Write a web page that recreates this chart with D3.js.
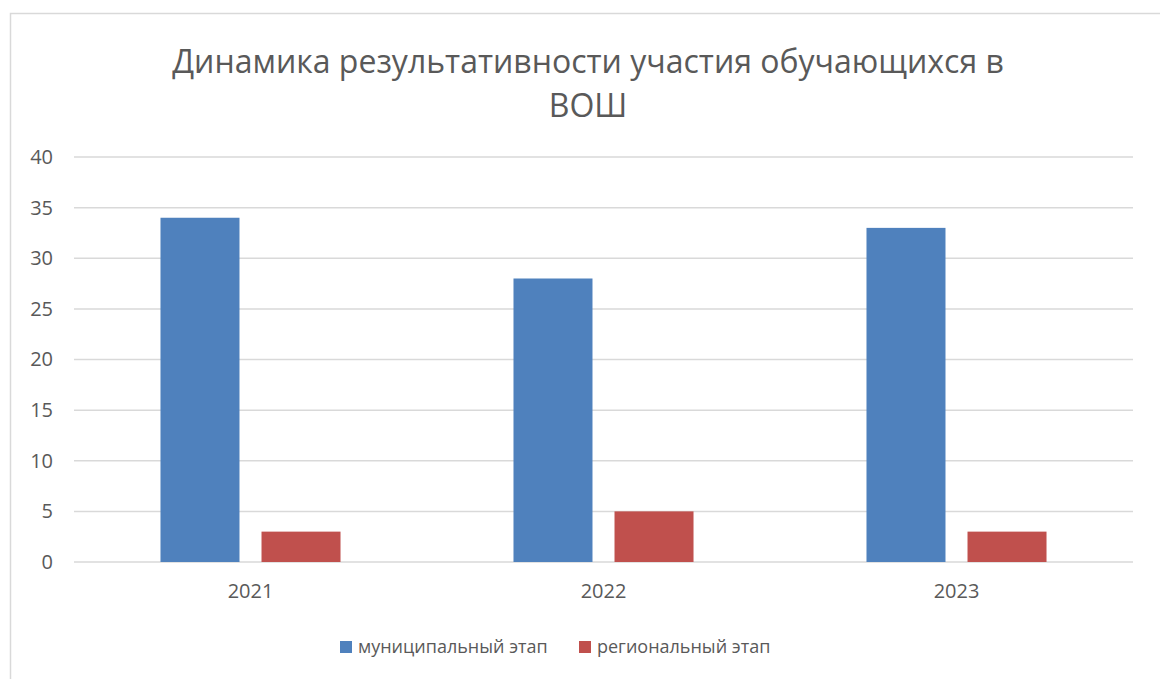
<!DOCTYPE html>
<html>
<head>
<meta charset="utf-8">
<script src="https://cdn.jsdelivr.net/npm/d3@7"></script>
<style>
  body { margin: 0; background: #fff; }
  svg text { font-family: "Open Sans", "Noto Sans", sans-serif; fill: #595959; }
</style>
</head>
<body>
<svg id="chart" width="1160" height="679"></svg>
<script>
// chart data
var years = ["2021", "2022", "2023"];
var seriesNames = ["муниципальный этап", "региональный этап"];
var municipal = [34, 28, 33];
var regional = [3, 5, 3];
var yTicks = [0, 5, 10, 15, 20, 25, 30, 35, 40];
var titleLines = ["Динамика результативности участия обучающихся в", "ВОШ"];
var colors = ["#4F81BD", "#C0504D"];

var rows = years.map(function(y, i) { return {year: y, values: [municipal[i], regional[i]]}; });

var svg = d3.select("#chart");

// outer frame
svg.append("rect")
    .attr("x", 10.5).attr("y", 13.5)
    .attr("width", 1170).attr("height", 700)
    .attr("fill", "none").attr("stroke", "#d9d9d9").attr("stroke-width", 1.5);

// title
svg.selectAll(".title")
    .data(titleLines)
    .enter().append("text")
    .attr("class", "title")
    .attr("x", 588)
    .attr("y", function(d, i) { return 73 + i * 44; })
    .attr("text-anchor", "middle")
    .style("font-size", "32px")
    .text(function(d) { return d; });

var margin = {left: 74, right: 1133, top: 157, bottom: 562};

var x0 = d3.scaleBand().domain(years).range([margin.left, margin.right]).paddingInner(0.49).paddingOuter(0.245);
var x1 = d3.scaleBand().domain([0, 1]).range([0, x0.bandwidth()]).paddingInner(0.218);
var y = d3.scaleLinear().domain([0, 40]).range([margin.bottom, margin.top]);

// gridlines
svg.append("g")
    .selectAll("line")
    .data(yTicks)
    .enter().append("line")
    .attr("x1", margin.left).attr("x2", margin.right)
    .attr("y1", function(d) { return y(d); })
    .attr("y2", function(d) { return y(d); })
    .attr("stroke", "#d9d9d9").attr("stroke-width", 1.5);

// y axis labels
var yAxis = svg.append("g")
    .attr("transform", "translate(" + (margin.left - 21) + ",0)")
    .call(d3.axisLeft(y).tickValues(yTicks).tickSize(0).tickPadding(0));
yAxis.select(".domain").remove();
yAxis.selectAll("text").style("font-size", "20px").attr("fill", "#595959");

// bars
var groups = svg.append("g").selectAll("g")
    .data(rows)
    .enter().append("g")
    .attr("transform", function(d) { return "translate(" + x0(d.year) + ",0)"; });

groups.selectAll("rect")
    .data(function(d) { return d.values; })
    .enter().append("rect")
    .attr("x", function(d, i) { return x1(i); })
    .attr("y", function(d) { return y(d); })
    .attr("width", x1.bandwidth())
    .attr("height", function(d) { return y(0) - y(d); })
    .attr("fill", function(d, i) { return colors[i]; });

// x axis labels
var xAxis = svg.append("g")
    .attr("transform", "translate(0," + (margin.bottom + 22) + ")")
    .call(d3.axisBottom(x0).tickSize(0).tickPadding(0));
xAxis.select(".domain").remove();
xAxis.selectAll("text").style("font-size", "20px").attr("fill", "#595959");

// legend
var legendX = [340, 579];
var legend = svg.append("g").selectAll("g")
    .data(seriesNames)
    .enter().append("g")
    .attr("transform", function(d, i) { return "translate(" + legendX[i] + ",641)"; });
legend.append("rect")
    .attr("width", 12).attr("height", 12)
    .attr("fill", function(d, i) { return colors[i]; });
legend.append("text")
    .attr("x", 18).attr("y", 12)
    .style("font-size", "18px")
    .text(function(d) { return d; });
</script>
</body>
</html>
